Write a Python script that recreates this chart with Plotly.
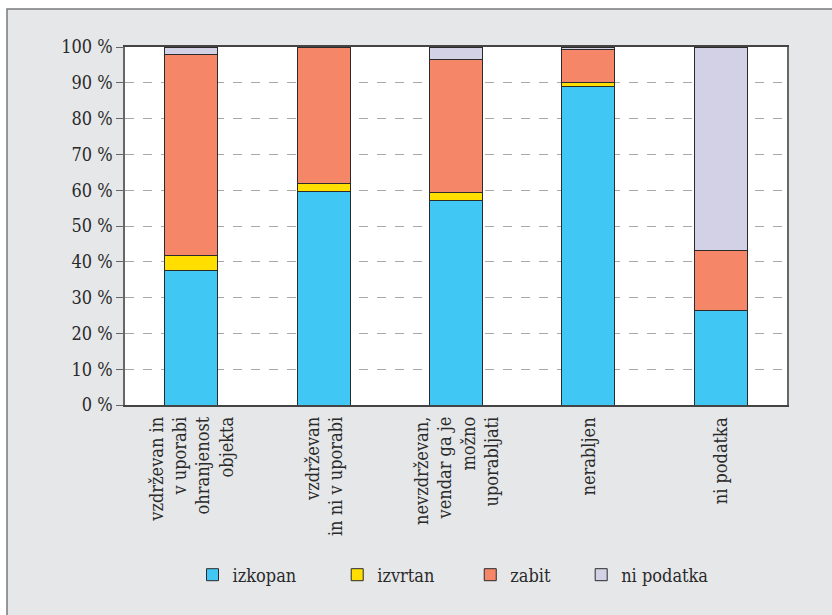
import plotly.graph_objects as go

categories = ["c1", "c2", "c3", "c4", "c5"]
category_labels = [
    "vzdrževan in<br>v uporabi<br>ohranjenost<br>objekta",
    "vzdrževan<br>in ni v uporabi",
    "nevzdrževan,<br>vendar ga je<br>možno<br>uporabljati",
    "nerabljen",
    "ni podatka",
]
izkopan = [37.5, 59.6, 57.0, 89.0, 26.5]
izvrtan = [4.3, 2.3, 2.3, 1.2, 0.0]
zabit = [56.1, 38.1, 37.2, 9.1, 16.7]
ni_podatka = [2.1, 0.0, 3.5, 0.7, 56.8]

series_names = ["izkopan", "izvrtan", "zabit", "ni podatka"]
series_values = [izkopan, izvrtan, zabit, ni_podatka]
colors = ["#41C7F3", "#FFDE00", "#F58667", "#D3D1E6"]

tick_vals = [0, 10, 20, 30, 40, 50, 60, 70, 80, 90, 100]
tick_text = [f"{v} %" for v in tick_vals]

FONT = "DejaVu Serif Condensed, DejaVu Serif"
FS = 18
pads = [7, 6, 5, 0]

fig = go.Figure()
for name, vals, col, p in zip(series_names, series_values, colors, pads):
    fig.add_trace(go.Bar(
        x=categories, y=vals, name=name + "\u00a0" * p,
        marker=dict(color=col, line=dict(color="#2b2b2b", width=1)),
    ))

W, H = 832, 615
L, R, T, B = 125, 45, 47, 210
pw, ph = W - L - R, H - T - B

def px2paper_x(px):
    return (px - L) / pw

def px2paper_y(py):
    return (H - B - py) / ph

fig.add_shape(type="rect", xref="paper", yref="paper",
              x0=px2paper_x(7), x1=px2paper_x(845),
              y0=px2paper_y(630), y1=px2paper_y(9),
              fillcolor="#E6E7E9", line=dict(color="#7a7a7a", width=1.5),
              layer="below")
fig.add_shape(type="rect", xref="paper", yref="paper",
              x0=0, x1=1, y0=0, y1=1,
              fillcolor="white", line=dict(width=0), layer="below")

for cat, lab in zip(categories, category_labels):
    fig.add_annotation(x=cat, xref="x", y=0, yref="paper",
                       text=lab, textangle=-90, align="right",
                       xanchor="center", yanchor="top", yshift=-10,
                       showarrow=False, font=dict(family=FONT, size=FS, color="#2a2a2a"))

fig.update_layout(
    width=W, height=H,
    barmode="stack", bargap=0.6,
    margin=dict(l=L, r=R, t=T, b=B),
    paper_bgcolor="white", plot_bgcolor="white",
    font=dict(family=FONT, size=FS, color="#2a2a2a"),
    showlegend=True,
    legend=dict(orientation="h", x=px2paper_x(453), xanchor="center",
                y=px2paper_y(575), yanchor="middle",
                bgcolor="rgba(0,0,0,0)", font=dict(size=FS),
                itemwidth=30, traceorder="normal"),
    xaxis=dict(showticklabels=False, showline=True, linecolor="#444", linewidth=1.5,
               mirror=True, ticks="", showgrid=False, range=[-0.5, 4.5]),
    yaxis=dict(range=[0, 100], tickvals=tick_vals, ticktext=tick_text,
               showline=True, linecolor="#666", linewidth=1.5, mirror=True,
               ticks="outside", ticklen=7, tickcolor="#666",
               showgrid=True, gridcolor="#a8a8a8", griddash="dash", gridwidth=1,
               zeroline=False),
)

fig.write_html("out.html")
